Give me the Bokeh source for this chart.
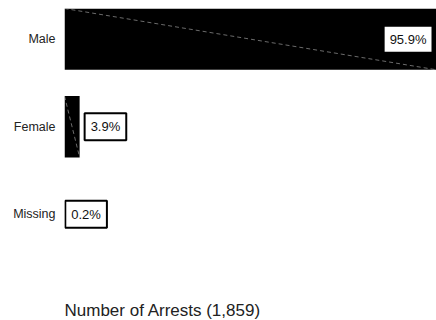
from bokeh.plotting import figure
from bokeh.models import ColumnDataSource, Range1d, FixedTicker, Title
from bokeh.core.properties import value
from bokeh.embed import file_html
from bokeh.resources import INLINE

categories = ["Male", "Female", "Missing"]
percents = [95.9, 3.9, 0.2]
total_arrests = 1859
axis_title = f"Number of Arrests ({total_arrests:,})"

FONT = "Liberation Sans"
pos = [-i for i in range(len(categories))]
labels = [f"{v:.1f}%" for v in percents]

# bars narrower than a pixel are not drawn in the reference
vis = [i for i, v in enumerate(percents) if v >= 0.5]
bars = ColumnDataSource(dict(y=[pos[i] for i in vis], right=[percents[i] for i in vis],
                             top=[pos[i] + 0.35 for i in vis], bottom=[pos[i] - 0.35 for i in vis],
                             zero=[0] * len(vis)))

p = figure(width=436, height=320, output_backend="svg", toolbar_location=None,
           x_range=Range1d(0, max(percents)), y_range=Range1d(-2.95, 0.35),
           min_border_left=64, min_border_right=0, min_border_top=8, min_border_bottom=0)

p.hbar(y="y", left=0, right="right", height=0.7, source=bars,
       fill_color="black", line_color=None)
p.segment(x0="zero", y0="top", x1="right", y1="bottom", source=bars,
          line_color="#9a9a9a", line_width=0.7, line_dash="4 3")

big = max(percents) * 0.5
ins = ColumnDataSource(dict(x=[v for v in percents if v >= big],
                            y=[y for y, v in zip(pos, percents) if v >= big],
                            t=[l for l, v in zip(labels, percents) if v >= big]))
outs_v = [(y, v, l) for y, v, l in zip(pos, percents, labels) if v < big]
outs = ColumnDataSource(dict(x=[v for _, v, _ in outs_v], y=[y for y, _, _ in outs_v],
                             t=[l for _, _, l in outs_v],
                             off=[5 if v >= 0.5 else 0 for _, v, _ in outs_v]))

common = dict(text_font=value(FONT), text_font_size="13px", text_color="#111",
              background_fill_color="white", border_line_color="black",
              border_line_width=2, padding=6)
p.text(x="x", y="y", text="t", source=ins, anchor="center_right", x_offset=-4, **common)
p.text(x="x", y="y", text="t", source=outs, anchor="center_left", x_offset="off", **common)

p.xaxis.visible = False
p.grid.visible = False
p.outline_line_color = None
ya = p.yaxis[0]
ya.ticker = FixedTicker(ticks=pos)
ya.major_label_overrides = {y: c for y, c in zip(pos, categories)}
ya.axis_line_color = None
ya.major_tick_line_color = None
ya.minor_tick_line_color = None
ya.major_label_standoff = 3
ya.major_label_text_font = FONT
ya.major_label_text_font_size = "12.5px"
ya.major_label_text_color = "#222"

p.add_layout(Title(text=axis_title, align="left", text_font=FONT, text_font_size="17px",
                   text_font_style="normal", text_color="#222", standoff=2), "below")

open("out.html", "w").write(file_html(p, INLINE))
